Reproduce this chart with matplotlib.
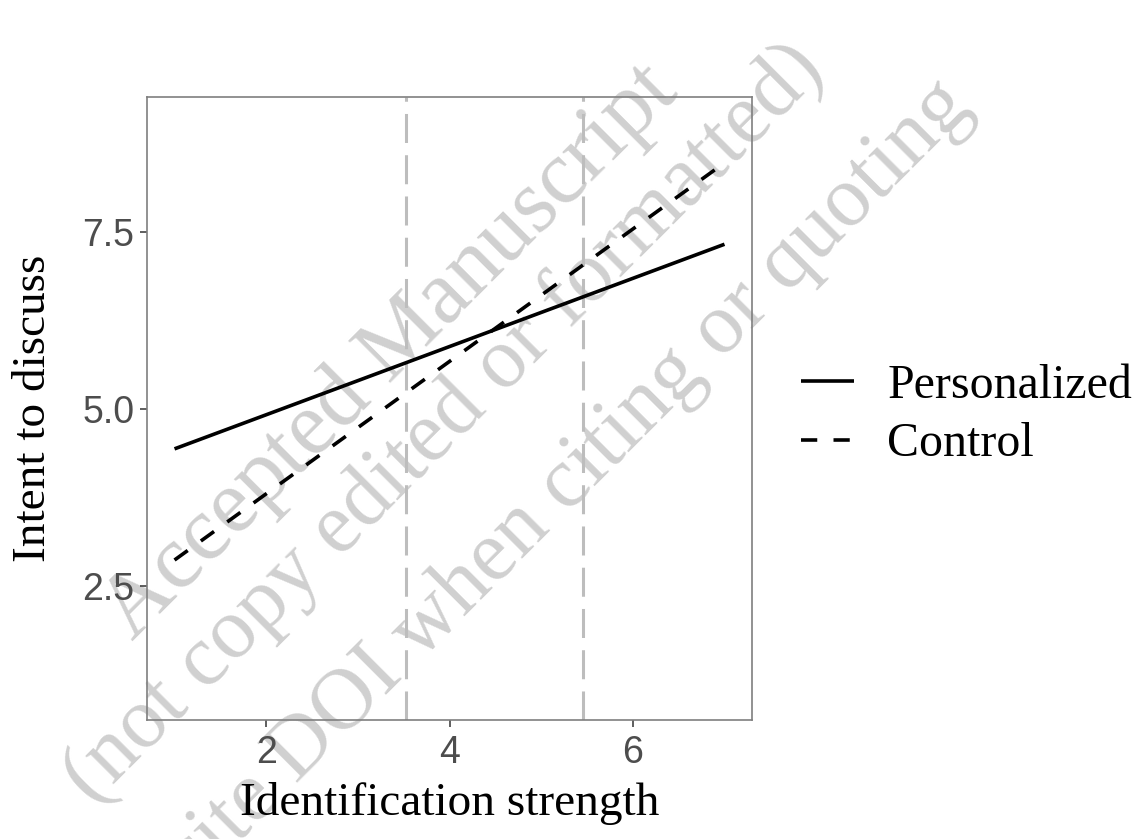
import matplotlib
matplotlib.use('Agg')
import matplotlib.pyplot as plt

# fitted lines at the two ends of the identification range
x_ends = [1, 7]
personalized = [4.43, 7.32]
control = [2.86, 8.47]
# region of significance boundaries
jn_bounds = [3.52, 5.46]

x_ticks = [2, 4, 6]
y_ticks = [2.5, 5.0, 7.5]
y_tick_labels = ['2.5', '5.0', '7.5']

stamp_lines = ['Accepted Manuscript',
               '(not copy edited or formatted)',
               'Please cite DOI when citing or quoting']

serif = 'Liberation Serif'
sans = 'Liberation Sans'

fig = plt.figure(figsize=(11.38, 8.39), dpi=100)
ax = fig.add_axes([0.1292, 0.1418, 0.5316, 0.7426])
ax.patch.set_alpha(0)

# dashed gray reference lines
for xv in jn_bounds:
    ax.axvline(xv, color='#bdbdbd', lw=2.2, dashes=(9.5, 4.0), zorder=1)

ax.plot(x_ends, personalized, color='black', lw=2.6, solid_capstyle='butt',
        label='Personalized', zorder=3)
ax.plot(x_ends, control, color='black', lw=2.6, dashes=(4.5, 4.5),
        dash_capstyle='butt', label='Control', zorder=3)

ax.set_xlim(0.7, 7.3)
ax.set_ylim(0.6, 9.4)
ax.set_xticks(x_ticks)
ax.set_yticks(y_ticks)
ax.set_yticklabels(y_tick_labels)
ax.tick_params(length=5, width=1.1, color='#333333', labelcolor='#4d4d4d',
               labelsize=27, pad=4)
for lab in ax.get_xticklabels() + ax.get_yticklabels():
    lab.set_family(sans)
ax.tick_params(axis='x', pad=6)
for s in ax.spines.values():
    s.set_color('#7f7f7f')
    s.set_linewidth(1.2)

ax.set_xlabel('Identification strength', fontsize=34, family=serif, labelpad=8)
ax.set_ylabel('Intent to discuss', fontsize=34, family=serif, labelpad=20)

fig.legend(loc='center left', bbox_to_anchor=(0.666, 0.505), frameon=False,
           prop={'family': serif, 'size': 34.5}, handlelength=1.1,
           handletextpad=0.7, labelspacing=0.3)

# stamp across the figure, one text per line, behind the plot
stamp_pos = [(0.3436, 0.5805), (0.3910, 0.4946), (0.4242, 0.3226)]
stamp_size = [65, 62, 62]
for line, (fx, fy), fs in zip(stamp_lines, stamp_pos, stamp_size):
    fig.text(fx, fy, line, rotation=45, rotation_mode='anchor',
             ha='center', va='center', fontsize=fs, family=serif,
             color='#d0d0d0', zorder=-1)

fig.savefig('out.png', dpi=100)
